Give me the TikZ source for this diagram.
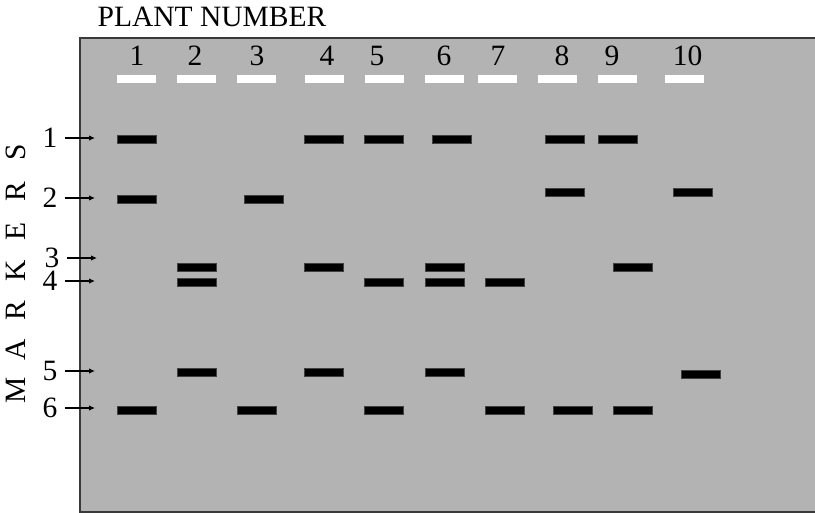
\documentclass[tikz,border=0pt]{standalone}
\usepackage{fontspec}
\setmainfont{Liberation Serif}
\usetikzlibrary{arrows.meta}
\definecolor{gelcol}{HTML}{B3B3B3}
\definecolor{edgecol}{HTML}{3A3A3A}
\newcommand{\gelfont}{\fontsize{29.5}{33}\selectfont}
\tikzset{
  band/.style={fill=black, draw=black!75, line width=0.4pt, inner sep=0pt,
    minimum width=39pt, minimum height=8pt},
  well/.style={fill=white, inner sep=0pt, minimum width=39pt, minimum height=8pt},
  lbl/.style={font=\gelfont, inner sep=0pt},
  mlbl/.style={font=\gelfont, inner xsep=7pt, inner ysep=0pt},
  marrow/.style={-{Latex[length=6pt,width=5.5pt]}, line width=1.3pt}
}
\begin{document}
\begin{tikzpicture}[x=1pt, y=-1pt]
\useasboundingbox (0,0) rectangle (815,513);

% --- Gel ---
\fill[gelcol] (80,38) rectangle (816,512);
\draw[edgecol, line width=1.2pt] (816,38) -- (80,38) -- (80,512) -- (816,512);

% Title
\node[lbl] (title) at (212,17) {PLANT NUMBER};

% Wells and plant numbers
\foreach \wx/\nx [count=\i] in {136.5/137, 196.5/195, 256.5/257, 324/327, 384/377,
    444.5/444, 497/498, 557/562, 617.5/612, 684.5/687.5}{
  \node[well] (well\i) at (\wx,79) {};
  \node[lbl] (plant\i) at (\nx,56) {\i};
}

% --- Markers axis ---
\foreach \l [count=\i] in {M,A,R,K,E,R,S}
  \node[lbl, rotate=90] (side\i) at (16, {390-(\i-1)*39.7}) {\l};

% Marker labels and arrows
\foreach \m/\lx/\my/\tx in {1/50/138/95, 2/50/198/95, 3/52/258/97,
    4/50/281/95, 5/50/371/95, 6/50/408/95}{
  \node[mlbl] (mark\m) at (\lx,\my) {\m};
  \coordinate (tip\m) at (\tx,\my);
  \draw[marrow] (mark\m) -- (tip\m);
}

% --- Bands ---
\foreach \bx/\by [count=\i] in {136.5/139, 136.5/199, 136.5/410,
    196.5/267, 196.5/282, 196.5/372,
    264/199, 256.5/410,
    324/139, 324/267, 324/372,
    384/139, 384/282, 384/410,
    451.5/139, 444.5/267, 444.5/282, 444.5/372,
    504.5/282, 504.5/410,
    564.5/139, 564.5/192, 572.5/410,
    617.5/139, 632.5/267, 632.5/410,
    692.5/192, 700.5/374}
  \node[band] (band\i) at (\bx,\by) {};

\end{tikzpicture}
\end{document}
